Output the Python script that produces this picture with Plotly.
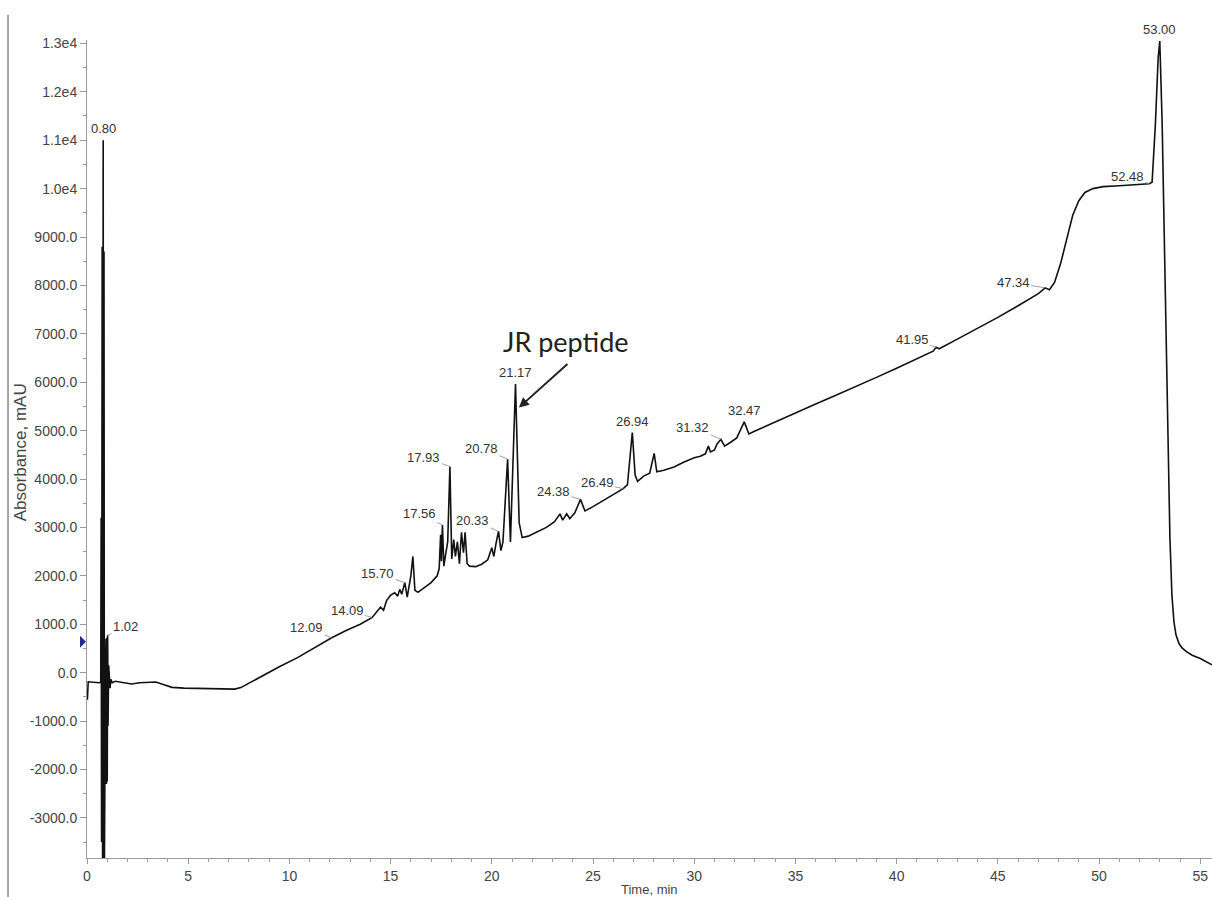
import numpy as np
import plotly.graph_objects as go

# ---------------- data ----------------
time_min = [
    0.00, 0.02, 0.06, 0.30, 0.60, 0.68, 0.70, 0.72, 0.75, 0.77, 0.80, 0.82, 0.84, 0.86, 0.88,
    0.91, 0.94, 0.96, 0.98, 1.00, 1.02, 1.04, 1.07, 1.10, 1.14, 1.18, 1.25, 1.40,
    1.80, 2.20, 2.60, 3.00, 3.40, 3.80, 4.20, 4.80, 5.50, 6.20, 6.80, 7.30, 7.60,
    8.00, 8.70, 9.50, 10.40, 11.20, 12.09, 12.80, 13.50, 14.09, 14.30, 14.50, 14.65, 14.80,
    15.00, 15.20, 15.35, 15.45, 15.55, 15.70, 15.82, 16.00, 16.10, 16.20, 16.35, 16.70, 17.00,
    17.30, 17.40, 17.47, 17.51, 17.56, 17.63, 17.72, 17.82, 17.93, 18.02, 18.12, 18.20, 18.30,
    18.40, 18.50, 18.60, 18.68, 18.78, 18.90, 19.20, 19.50, 19.80, 20.00, 20.10, 20.20, 20.33,
    20.45, 20.55, 20.78, 20.92, 21.17, 21.35, 21.50, 21.80, 22.20, 22.70, 23.10, 23.37, 23.50,
    23.70, 23.85, 24.10, 24.38, 24.60, 25.00, 25.50, 26.00, 26.49, 26.70, 26.94, 27.08, 27.20,
    27.50, 27.80, 28.02, 28.15, 28.50, 29.00, 29.50, 30.00, 30.30, 30.55, 30.70, 30.80, 31.00,
    31.12, 31.32, 31.50, 31.80, 32.10, 32.47, 32.70, 33.00, 34.00, 35.00, 36.00, 37.00, 38.00,
    39.00, 40.00, 41.00, 41.80, 41.95, 42.10, 43.00, 44.00, 45.00, 46.00, 47.00, 47.34, 47.55,
    47.80, 48.10, 48.40, 48.70, 49.00, 49.30, 49.70, 50.20, 51.00, 52.00, 52.48, 52.62, 52.78,
    52.92, 53.00, 53.06, 53.12, 53.20, 53.30, 53.40, 53.50, 53.60, 53.70, 53.80, 53.95, 54.10,
    54.30, 54.60, 55.00, 55.58,
]
absorbance_mau = [
    -480, -560, -190, -200, -210, -200, 3200, -3500, 8800, -3950, 11000, -3950, 8700, -3950, -500,
    -200, 700, -2300, 720, -2250, 770, -1100, 150, -120, -320, -140, -210, -180,
    -215, -235, -210, -205, -195, -250, -305, -320, -325, -330, -345, -340, -310,
    -220, -50, 120, 310, 510, 720, 870, 1000, 1140, 1240, 1350, 1290, 1490,
    1600, 1650, 1580, 1720, 1620, 1860, 1560, 2000, 2400, 1700, 1660, 1760, 1860,
    2000, 2150, 2850, 2300, 3050, 2200, 2450, 2700, 4260, 2350, 2750, 2400, 2700,
    2250, 2900, 2480, 2900, 2250, 2200, 2190, 2240, 2330, 2580, 2400, 2650, 2920,
    2520, 2700, 4410, 2700, 5960, 3100, 2790, 2820, 2900, 3000, 3120, 3280, 3150,
    3280, 3180, 3300, 3580, 3340, 3430, 3560, 3680, 3800, 3880, 4960, 4080, 3950,
    4060, 4120, 4530, 4150, 4180, 4250, 4350, 4440, 4470, 4520, 4680, 4560, 4600,
    4720, 4820, 4680, 4760, 4850, 5180, 4930, 4990, 5180, 5370, 5550, 5730, 5910,
    6100, 6290, 6480, 6640, 6720, 6690, 6890, 7110, 7340, 7580, 7830, 7950, 7910,
    8060, 8450, 8950, 9450, 9750, 9920, 10000, 10040, 10060, 10080, 10100, 10130, 11300,
    12700, 13050, 12200, 11300, 9500, 7300, 5000, 2800, 1600, 1050, 780, 600, 510,
    440, 360, 290, 160,
]
assert len(time_min) == len(absorbance_mau)

# peak retention-time labels
leader_labels = ["1.02", "12.09", "14.09", "15.70", "17.56", "17.93", "20.33", "20.78",
                 "24.38", "26.49", "31.32", "41.95", "47.34", "52.48"]
top_labels = ["0.80", "21.17", "26.94", "32.47", "53.00"]

# axis ticks
x_tick_vals = [0, 5, 10, 15, 20, 25, 30, 35, 40, 45, 50, 55]
y_tick_vals = [13000, 12000, 11000, 10000, 9000, 8000, 7000, 6000, 5000, 4000,
               3000, 2000, 1000, 0, -1000, -2000, -3000]
y_tick_text = ["1.3e4", "1.2e4", "1.1e4", "1.0e4", "9000.0", "8000.0", "7000.0", "6000.0",
               "5000.0", "4000.0", "3000.0", "2000.0", "1000.0", "0.0", "-1000.0",
               "-2000.0", "-3000.0"]
marker_level = 640          # blue level marker on the y axis
jr_target = (21.34, 5475)   # where the "JR peptide" arrow points

# ---------------- styling / layout ----------------
X_RANGE = [0, 55.58]
Y_RANGE = [-3830, 13070]
# pixel offsets (ax, ay) of each leader label text from its peak
leader_offsets = [(18, -9), (-25, -10), (-25, -7), (-27, -9), (-23, -11), (-26, -9), (-26, -11),
                  (-26, -11), (-27, -8), (-26, -6), (-28, -12), (-24, -8), (-32, -5), (-22, -7)]

t_arr = np.array(time_min)
a_arr = np.array(absorbance_mau)

fig = go.Figure()
fig.add_trace(go.Scatter(x=t_arr, y=a_arr, mode="lines",
                         line=dict(color="#111111", width=1.6), hoverinfo="skip",
                         showlegend=False))

label_font = dict(family="Liberation Sans, Arial, sans-serif", size=13, color="#333333")
annotations = []
for lab, (ax, ay) in zip(leader_labels, leader_offsets):
    t = float(lab)
    annotations.append(dict(x=t, y=float(np.interp(t, t_arr, a_arr)), xref="x", yref="y",
                            text=lab, showarrow=True, arrowhead=0, arrowwidth=0.8,
                            arrowcolor="#888888", standoff=0, ax=ax, ay=ay,
                            font=label_font))
for lab in top_labels:
    t = float(lab)
    annotations.append(dict(x=t, y=float(np.interp(t, t_arr, a_arr)), xref="x", yref="y",
                            text=lab, showarrow=False, yanchor="bottom", yshift=2,
                            font=label_font))

# JR peptide arrow + text
annotations.append(dict(x=jr_target[0], y=jr_target[1], xref="x", yref="y", text="",
                        showarrow=True, arrowhead=2, arrowsize=1, arrowwidth=2,
                        arrowcolor="#222222", standoff=0, ax=50, ay=-45))
annotations.append(dict(x=jr_target[0], y=jr_target[1], xref="x", yref="y", text="JR peptide",
                        showarrow=False, xshift=47, yshift=66,
                        font=dict(family="Lato, Open Sans, sans-serif", size=27, color="#222222")))

# axis titles
annotations.append(dict(x=-0.0596, y=0.496, xref="paper", yref="paper", text="Absorbance, mAU",
                        textangle=-90, showarrow=False, xanchor="center", yanchor="middle",
                        font=dict(family="Liberation Sans, Arial, sans-serif", size=17, color="#444444")))
annotations.append(dict(x=0.5, y=-0.0275, xref="paper", yref="paper", text="Time, min",
                        xanchor="center", yanchor="top", showarrow=False,
                        font=dict(family="Liberation Sans, Arial, sans-serif", size=13, color="#444444")))

y_anchor_paper = (marker_level - Y_RANGE[0]) / (Y_RANGE[1] - Y_RANGE[0])
shapes = [
    dict(type="line", xref="paper", yref="paper", x0=-0.0702, x1=-0.0702, y0=-0.06, y1=1.031,
         line=dict(color="#8a8a8a", width=1.5)),
    dict(type="path", xref="paper", yref="paper", xsizemode="pixel", ysizemode="pixel",
         xanchor=0, yanchor=y_anchor_paper, path="M -7,-6 L -1,0 L -7,6 Z",
         fillcolor="#1f2f8f", line=dict(width=0)),
]

tick_font = dict(family="Liberation Sans, Arial, sans-serif", size=14, color="#444444")
fig.update_layout(
    width=1212, height=897,
    margin=dict(l=87, r=0, t=40, b=39),
    paper_bgcolor="white", plot_bgcolor="white",
    annotations=annotations, shapes=shapes,
    xaxis=dict(range=X_RANGE, showgrid=False, zeroline=False, showline=True,
               linecolor="#9a9a9a", linewidth=1, ticks="outside", ticklen=5,
               tickcolor="#9a9a9a", tickmode="array", tickvals=x_tick_vals,
               tickfont=tick_font, automargin=False,
               minor=dict(tickmode="linear", tick0=0, dtick=1, ticks="outside",
                          ticklen=3, tickcolor="#9a9a9a")),
    yaxis=dict(range=Y_RANGE, showgrid=False, zeroline=False, showline=True,
               linecolor="#9a9a9a", linewidth=1, ticks="outside", ticklen=6,
               tickcolor="#9a9a9a", tickmode="array", tickvals=y_tick_vals,
               ticktext=y_tick_text, tickfont=tick_font, automargin=False,
               minor=dict(tickmode="linear", tick0=0, dtick=500, ticks="outside",
                          ticklen=3, tickcolor="#9a9a9a")),
)

# remove the default page margin so the 1212x897 figure fills the window exactly
page_fix = ("document.body.style.margin='0';document.body.style.padding='0';"
            "document.body.style.overflow='hidden';")
fig.write_html("out.html", post_script=page_fix, config={"displayModeBar": False})
